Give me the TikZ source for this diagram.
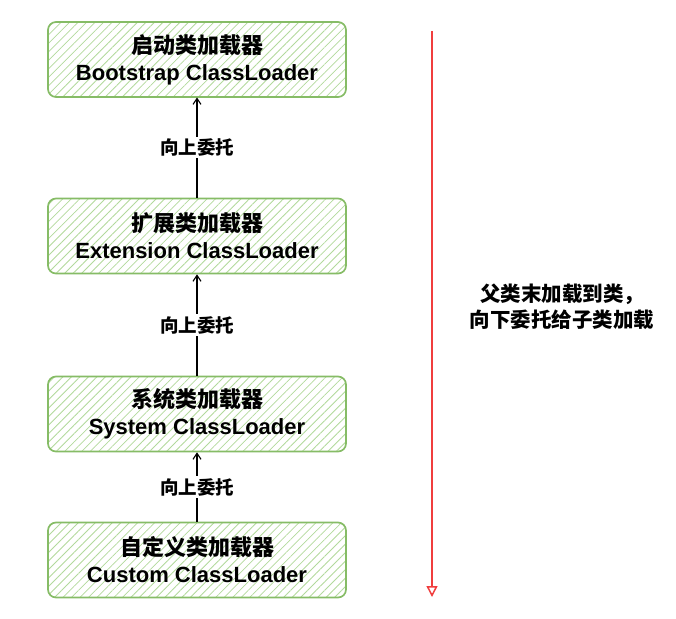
\documentclass[tikz,border=0pt]{standalone}
\usepackage{fontspec}
\setmainfont{Liberation Sans}
\newfontfamily\cjk{Noto Sans CJK SC}
\usetikzlibrary{arrows.meta,patterns.meta}

\definecolor{boxline}{HTML}{86BC66}
\definecolor{hatch}{HTML}{B2D99C}
\definecolor{redline}{HTML}{F03E3E}

\tikzset{
	loader/.style = {draw = boxline, line width = 1.7pt, rounded corners = 8pt,
		minimum width = 298pt, minimum height = 75pt, inner sep = 0pt, align = center,
		pattern = {Lines[angle = 45, distance = 6pt, line width = 0.8pt]}, pattern color = hatch,
		font = \fontsize{22}{27}\selectfont\bfseries},
	up/.style = {line width = 1.1pt, -{Straight Barb[length = 6pt, width = 8pt]}},
	tag/.style = {fill = white, inner sep = 2pt, font = \cjk\fontsize{18.5}{21}\selectfont\bfseries},
	note/.style = {align = center, font = \cjk\fontsize{20.5}{26}\selectfont\bfseries}
}

\begin{document}
\begin{tikzpicture}[x = 1pt, y = -1pt]
		%\draw[gray, dotted] (0, 0) grid[step = 50] (676, 618);
		\useasboundingbox (0, 0) rectangle (676, 618);
		\node[loader] (boot) at (197, 59.5) {{\cjk 启动类加载器}\\Bootstrap ClassLoader};
		\node[loader] (ext) at (197, 236) {{\cjk 扩展类加载器}\\Extension ClassLoader};
		\node[loader] (sys) at (197, 414) {{\cjk 系统类加载器}\\System ClassLoader};
		\node[loader] (cust) at (197, 560) {{\cjk 自定义类加载器}\\Custom ClassLoader};
		\draw[up] (ext.north) -- node[tag] {向上委托} (boot.south);
		\draw[up] (sys.north) -- node[tag] {向上委托} (ext.south);
		\draw[up] (cust.north) -- node[tag] {向上委托} (sys.south);
		\coordinate (rtop) at (432, 31);
		\coordinate (rbot) at (432, 597);
		\draw[redline, line width = 1.5pt, -{Triangle[open, length = 11pt, width = 11pt]}] (rtop) -- (rbot);
		\node[note] (hint) at (562, 307) {父类末加载到类，\\向下委托给子类加载};
	\end{tikzpicture}
\end{document}
